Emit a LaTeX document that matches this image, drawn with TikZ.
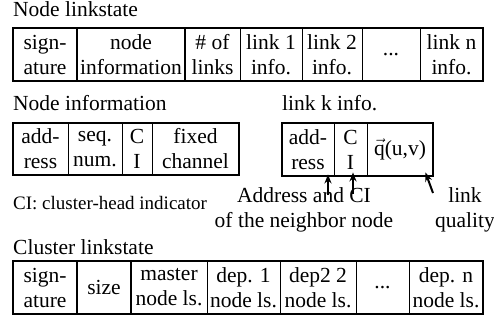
\documentclass[tikz,border=0pt]{standalone}
\usepackage{fontspec}
\setmainfont{Liberation Serif}
\usetikzlibrary{arrows.meta}
\newcommand\fsz{\fontsize{21.5}{25}\selectfont}
\newcommand\fsm{\fontsize{19}{23}\selectfont}
\newcommand\mycell[6]{\node[cell, minimum width={(#3-#2)*1pt}, minimum height={(#5-#4)*1pt}] (#1) at ({(#2+#3)/2},{(#4+#5)/2}) {#6};}
\tikzset{
  cell/.style={draw=black, line width=0.9pt, inner sep=0pt, align=center, font=\fsz},
  lbl/.style={inner sep=0pt, font=\fsz},
  outer/.style={line width=2pt},
  arr/.style={line width=2pt, -{Stealth[length=9pt,width=7pt]}}
}
\begin{document}
\begin{tikzpicture}[x=1pt,y=-1pt]
\useasboundingbox (0,0) rectangle (494,320);

% Node linkstate
\node[lbl, anchor=base west] (ttl1) at (13,17) {Node linkstate};
\mycell{t1}{13}{77}{28}{81}{sign-\\ature}
\mycell{t2}{77}{185}{28}{81}{node\\information}
\mycell{t3}{185}{240}{28}{81}{\# of\\links}
\mycell{t4}{240}{302}{28}{81}{link 1\\info.}
\mycell{t5}{302}{362}{28}{81}{link 2\\info.}
\mycell{t6}{362}{420}{28}{81}{...}
\mycell{t7}{420}{483}{28}{81}{link n\\info.}
\draw[outer] (t1.north west) rectangle (t7.south east);
\draw[outer] (t1.north east) -- (t1.south east);
\draw[outer] (t2.north east) -- (t2.south east);

% Node information
\node[lbl, anchor=base west] (ttl2) at (13,111) {Node information};
\mycell{n1}{13}{68}{123}{175}{add-\\ress}
\mycell{n2}{68}{122}{123}{175}{seq.\\num.}
\mycell{n3}{122}{152}{123}{175}{C\\I}
\mycell{n4}{152}{239}{123}{175}{fixed\\channel}
\draw[outer] (n1.north west) rectangle (n4.south east);
\node[inner sep=0pt, font=\fsm, anchor=base west] (cinote) at (13,209) {CI: cluster-head indicator};

% link k info
\node[lbl, anchor=base west] (ttl3) at (282,111) {link k info.};
\mycell{l1}{282}{334}{123}{176}{add-\\ress}
\mycell{l2}{334}{367}{123}{176}{C\\I}
\mycell{l3}{367}{433}{123}{176}{\ensuremath{\vec{\hbox{q}}}(u,v)}
\draw[outer] (l1.north west) rectangle (l3.south east);

\node[lbl, align=center] (addrlbl) at (304,209.5) {Address and CI\\of the neighbor node};
\node[lbl, align=center] (qlbl) at (465,209.5) {link\\quality};
\coordinate (tA) at (328,195);
\coordinate (tC) at (353,194);
\coordinate (tQ) at (433,193);
\draw[arr] (tA) -- ([yshift=2pt]l1.south -| tA);
\draw[arr] (tC) -- ([yshift=4pt]l2.south -| tC);
\draw[arr] (tQ) -- ([xshift=-8pt,yshift=4pt]l3.south east);

% Cluster linkstate
\node[lbl, anchor=base west] (ttl4) at (13,254) {Cluster linkstate};
\mycell{c1}{13}{77}{261}{314}{sign-\\ature}
\mycell{c2}{77}{131}{261}{314}{size}
\mycell{c3}{131}{207}{261}{314}{master\\node ls.}
\mycell{c4}{207}{280}{261}{314}{dep. 1\\node ls.}
\mycell{c5}{280}{356}{261}{314}{dep2 2\\node ls.}
\mycell{c6}{356}{409}{261}{314}{...}
\mycell{c7}{409}{483}{261}{314}{dep. n\\node ls.}
\draw[outer] (c1.north west) rectangle (c7.south east);
\draw[outer] (c1.north east) -- (c1.south east);
\draw[outer] (c2.north east) -- (c2.south east);
\end{tikzpicture}
\end{document}
